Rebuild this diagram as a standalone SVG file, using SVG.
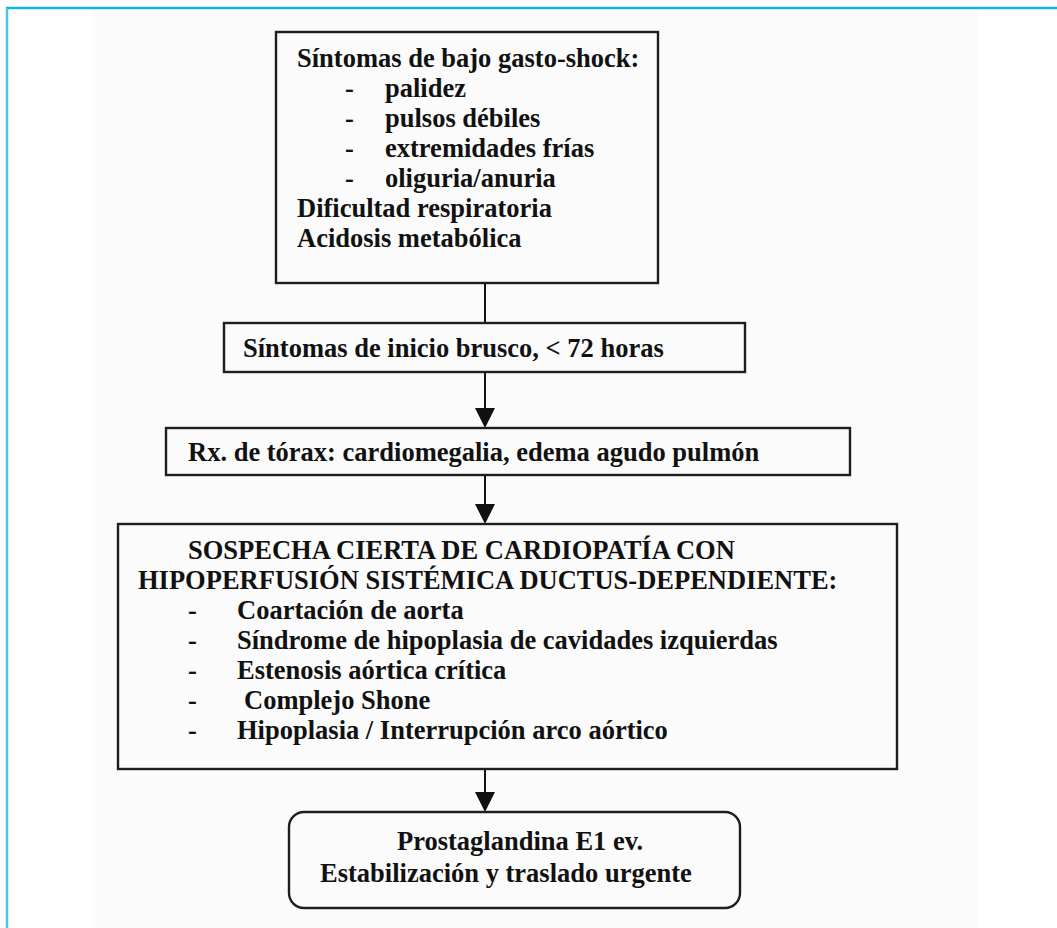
<svg xmlns="http://www.w3.org/2000/svg" width="1057" height="928" viewBox="0 0 1057 928">
<defs>
<style>
.box{fill:none;stroke:#1e1e1e;stroke-width:2.4}
.t{font-family:"Liberation Serif","Times New Roman",serif;font-weight:bold;fill:#111;font-size:26.5px}
.c{stroke:#111;stroke-width:2;fill:none}
.ah{fill:#111}
</style>
</defs>
<rect x="0" y="0" width="1057" height="928" fill="#ffffff"/>
<rect x="92" y="10" width="886" height="918" fill="#fbfbfb"/>
<line x1="6" y1="8" x2="1057" y2="8" stroke="#12b2ec" stroke-width="2.5"/>
<line x1="7" y1="8" x2="7" y2="928" stroke="#4cc4f0" stroke-width="2.5"/>

<g id="connectors">
<line class="c" x1="485" y1="283" x2="485" y2="323"/>
<line class="c" x1="485" y1="372" x2="485" y2="410"/>
<polygon class="ah" points="475,408 495,408 485,428"/>
<line class="c" x1="485" y1="475" x2="485" y2="506"/>
<polygon class="ah" points="475,504 495,504 485,524"/>
<line class="c" x1="485" y1="769" x2="485" y2="794"/>
<polygon class="ah" points="475,792 495,792 485,812"/>
</g>

<g id="n1">
<rect class="box" x="276" y="32" width="382" height="251"/>
<text class="t" x="297" y="67">Síntomas de bajo gasto-shock:</text>
<text class="t" x="345" y="97">-</text><text class="t" x="385" y="97">palidez</text>
<text class="t" x="345" y="127">-</text><text class="t" x="385" y="127">pulsos débiles</text>
<text class="t" x="345" y="157">-</text><text class="t" x="385" y="157">extremidades frías</text>
<text class="t" x="345" y="187">-</text><text class="t" x="385" y="187">oliguria/anuria</text>
<text class="t" x="297" y="217">Dificultad respiratoria</text>
<text class="t" x="297" y="247">Acidosis metabólica</text>
</g>

<g id="n2">
<rect class="box" x="224" y="323" width="521" height="49"/>
<text class="t" x="243" y="357">Síntomas de inicio brusco, &lt; 72 horas</text>
</g>

<g id="n3">
<rect class="box" x="166" y="428" width="684" height="47"/>
<text class="t" x="188" y="461">Rx. de tórax: cardiomegalia, edema agudo pulmón</text>
</g>

<g id="n4">
<rect class="box" x="118" y="524" width="779" height="245"/>
<text class="t" x="188" y="559">SOSPECHA CIERTA DE CARDIOPATÍA CON</text>
<text class="t" x="138" y="589">HIPOPERFUSIÓN SISTÉMICA DUCTUS-DEPENDIENTE:</text>
<text class="t" x="188" y="619">-</text><text class="t" x="237" y="619">Coartación de aorta</text>
<text class="t" x="188" y="649">-</text><text class="t" x="237" y="649">Síndrome de hipoplasia de cavidades izquierdas</text>
<text class="t" x="188" y="679">-</text><text class="t" x="237" y="679">Estenosis aórtica crítica</text>
<text class="t" x="188" y="709">-</text><text class="t" x="244" y="709">Complejo Shone</text>
<text class="t" x="188" y="739">-</text><text class="t" x="237" y="739">Hipoplasia / Interrupción arco aórtico</text>
</g>

<g id="n5">
<rect class="box" x="289" y="812" width="451" height="96" rx="15" ry="15"/>
<text class="t" x="397" y="850">Prostaglandina E1 ev.</text>
<text class="t" x="320" y="882">Estabilización y traslado urgente</text>
</g>
</svg>
